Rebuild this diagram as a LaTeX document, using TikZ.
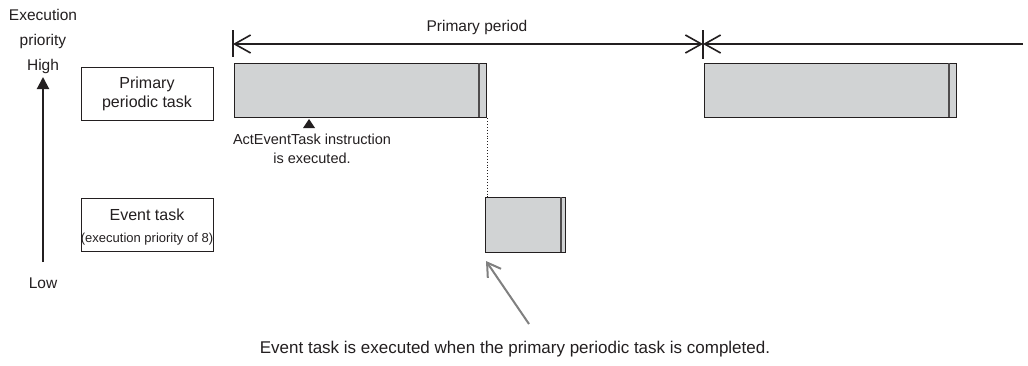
\documentclass[tikz,border=0pt]{standalone}
\usepackage{fontspec}
\setmainfont{Liberation Sans}
\usetikzlibrary{arrows.meta}
\definecolor{ink}{HTML}{231F20}
\definecolor{barfill}{HTML}{D1D3D4}
\definecolor{pointer}{HTML}{808080}
\begin{document}
\begin{tikzpicture}[x=1pt,y=-1pt,
  txt/.style={text=ink,inner sep=0pt,align=center},
  labelbox/.style={draw=ink,line width=1.1pt,fill=white,minimum width=132pt,minimum height=53pt,inner sep=0pt,anchor=north west},
  taskbar/.style={draw=ink,line width=1.1pt,fill=barfill,inner sep=0pt,anchor=north west},
  endmark/.style={draw=ink!80,line width=1.4pt},
  dimline/.style={draw=ink,line width=1.5pt},
  tick/.style={draw=ink,line width=1.2pt},
  dimbarb/.tip={Straight Barb[length=16pt,width=18pt,line width=1.6pt]}
]
\useasboundingbox (0,0) rectangle (1028,365);
\fill[white] (0,0) rectangle (1028,365);

% priority axis
\node[txt,font=\fontsize{15.5}{18}\selectfont] (exec) at (43,15) {Execution};
\node[txt,font=\fontsize{15.5}{18}\selectfont] (prio) at (43,41) {priority};
\node[txt,font=\fontsize{15.5}{18}\selectfont] (high) at (43,66) {High};
\node[txt,font=\fontsize{15.5}{18}\selectfont] (low) at (43,283) {Low};
\coordinate (axbot) at (43,262);
\coordinate (axtop) at (43,77);
\draw[ink,line width=2pt,-{Triangle[length=12pt,width=12pt]}] (axbot) -- (axtop);

% label boxes
\node[labelbox] (pbox) at (81,67) {};
\node[txt,font=\fontsize{16}{18}\selectfont] (ptxt1) at (147,84) {Primary};
\node[txt,font=\fontsize{16}{18}\selectfont] (ptxt2) at (147,103) {periodic task};
\node[labelbox] (ebox) at (81,198) {};
\node[txt,font=\fontsize{16}{18}\selectfont] (etxt1) at (147,215) {Event task};
\node[txt,font=\fontsize{13}{15}\selectfont] (etxt2) at (147,239) {(execution priority of 8)};

% primary period dimension
\node[txt,font=\fontsize{15.5}{18}\selectfont] (period) at (477,27) {Primary period};
\coordinate (d1) at (233,44);
\coordinate (d2) at (703,44);
\coordinate (d3) at (1023,44);
\draw[tick] (233,30) -- (233,57);
\draw[tick] (703,30) -- (703,59);
\draw[dimline,dimbarb-dimbarb] (d1) -- (d2);
\draw[dimline,dimbarb-] (d2) -- (d3);

% primary periodic task bars
\node[taskbar,minimum width=252pt,minimum height=54pt] (bar1) at (234,63) {};
\draw[endmark] (479,63) -- (479,117);
\node[taskbar,minimum width=252pt,minimum height=54pt] (bar2) at (704,63) {};
\draw[endmark] (949,63) -- (949,117);

% event task bar
\node[taskbar,minimum width=80pt,minimum height=55pt] (ebar) at (485,197) {};
\draw[endmark] (561,197) -- (561,252);

% dotted link
\draw[ink,line width=0.9pt,dotted] (bar1.south east) -- (ebar.north east -| bar1.south east);

% ActEventTask marker
\fill[ink] (309,119) -- (315,128) -- (303,128) -- cycle;
\node[txt,font=\fontsize{14.5}{18}\selectfont] (act1) at (312,139) {ActEventTask instruction};
\node[txt,font=\fontsize{14.5}{18}\selectfont] (act2) at (312,158) {is executed.};

% pointer arrow
\coordinate (ptail) at (529,324);
\coordinate (ptip) at (486,261);
\draw[pointer,line width=2pt,-{Straight Barb[length=13pt,width=16pt,line width=2pt]}] (ptail) -- (ptip);
\node[txt,font=\fontsize{17}{20}\selectfont] (note) at (515,349) {Event task is executed when the primary periodic task is completed.};
\end{tikzpicture}
\end{document}
